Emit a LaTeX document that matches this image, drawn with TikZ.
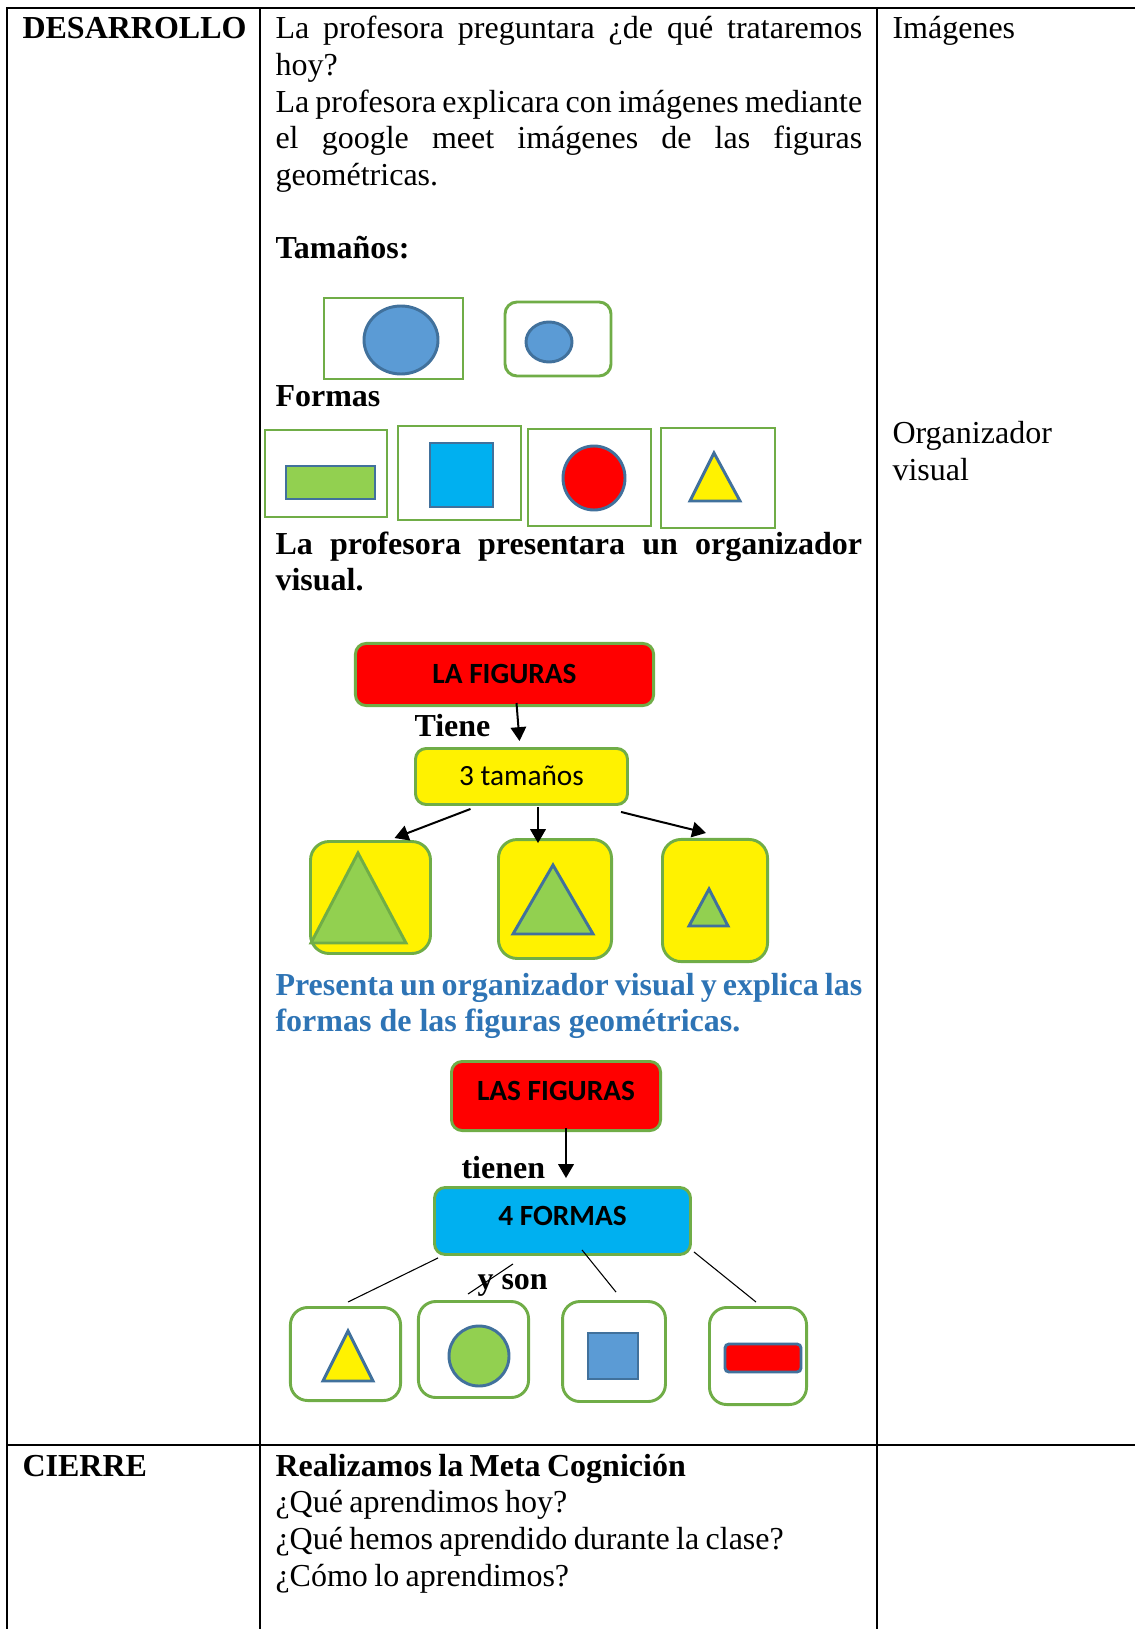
\documentclass[tikz,border=0pt]{standalone}
\usepackage{fontspec}
\setmainfont{Liberation Serif}
\newfontfamily\calibri{Carlito}
\usetikzlibrary{arrows.meta, positioning, calc}
\definecolor{boxgreen}{HTML}{70AD47}
\definecolor{shapeblue}{HTML}{5B9BD5}
\definecolor{edgeblue}{HTML}{41719C}
\definecolor{leafgreen}{HTML}{92D050}
\definecolor{skyblue}{HTML}{00B0F0}
\definecolor{titleblue}{HTML}{2E74B5}
\newcommand{\celltext}{\fontsize{12pt}{13.75pt}\selectfont}
\newcommand{\tightspace}{\spaceskip=2.4pt plus 1pt minus 0.5pt\relax}

\begin{document}
\begin{tikzpicture}[
    x=0.375pt, y=-0.375pt,
    cell/.style={anchor=base west, inner sep=0pt, font=\celltext},
    para/.style={cell, text width=220pt, align=justify},
    frame/.style={draw=boxgreen, line width=1.1pt, fill=white},
    piece/.style={draw=edgeblue, line width=1.1pt},
    mapbox/.style={draw=boxgreen, line width=1.1pt, rounded corners=4pt, inner sep=0pt, text height=7pt, text depth=0pt, font=\calibri\fontsize{11pt}{13pt}\selectfont},
    sizebox/.style={draw=boxgreen, fill=yellow, line width=1.1pt, rounded corners=7pt},
    formbox/.style={draw=boxgreen, fill=white, line width=1.1pt, rounded corners=6.5pt},
    arrow/.style={-{Triangle[length=5.2pt, width=5.8pt]}, line width=0.75pt},
    link/.style={line width=0.4pt},
    rule/.style={line width=0.8pt},
]
\useasboundingbox (0,0) rectangle (1135,1629);
% Table lines
\draw[rule] (7,1629) -- (7,8) -- (1135,8);
\draw[rule] (260,8) -- (260,1629);
\draw[rule] (877,8) -- (877,1629);
\draw[rule] (7,1445) -- (1135,1445);
% First row texts
\node[cell, font=\celltext\bfseries] (dev) at (22,39) {DESARROLLO};
\node[para] (intro) at (275,39) {La profesora preguntara ¿de qué trataremos\linebreak hoy?\\La profesora explicara con imágenes mediante\linebreak el google meet imágenes de las figuras\linebreak geométricas.};
\node[cell] (img) at (892,39) {Imágenes};
\node[cell, text width=200pt, align=left] (org) at (892,444) {Organizador\\visual};
% Sizes
\node[cell, font=\celltext\bfseries] (sizes) at (275,259) {Tamaños:};
\draw[frame] (324,298) rectangle (463,379);
\draw[piece, fill=shapeblue] (401,340) ellipse [x radius=37, y radius=34];
\draw[frame, rounded corners=4.5pt] (505,302) rectangle (611,376);
\draw[piece, fill=shapeblue] (549,342) ellipse [x radius=23, y radius=20];
% Shapes
\node[cell, font=\celltext\bfseries] (shapes) at (275,407) {Formas};
\draw[frame] (265,430) rectangle (387,517);
\draw[piece, fill=leafgreen] (286,466) rectangle (375,499);
\draw[frame] (398,426) rectangle (521,520);
\draw[piece, fill=skyblue] (430,443) rectangle (493,507);
\draw[frame] (528,429) rectangle (651,526);
\draw[piece, fill=red] (594,478) ellipse [x radius=31, y radius=32];
\draw[frame] (661,428) rectangle (775,528);
\draw[piece, fill=yellow] (714,453) -- (740,501) -- (690,501) -- cycle;
\node[para, font=\celltext\bfseries] (teach) at (275,554) {La profesora presentara un organizador\linebreak visual.};
% Map of sizes
\node[mapbox, fill=red, minimum width=111.8pt, minimum height=23.3pt] (fig) at (504.5,674.5) {\bfseries LA FIGURAS};
\node[mapbox, fill=yellow, minimum width=79.5pt, minimum height=21pt] (sizes3) at (521.5,776.5) {3 tamaños};
\node[sizebox, minimum width=45pt, minimum height=42pt] (big) at (370.5,897.5) {};
\node[sizebox, minimum width=42.4pt, minimum height=44.6pt] (mid) at (555,899) {};
\node[sizebox, minimum width=39.4pt, minimum height=45.8pt] (small) at (715,900.5) {};
\draw[draw=boxgreen, line width=1.1pt, fill=leafgreen] (358,853) -- (406,943) -- (311,943) -- cycle;
\draw[piece, fill=leafgreen] (553,865) -- (593,934) -- (513,934) -- cycle;
\draw[piece, fill=leafgreen] (709,889) -- (728,926) -- (689,926) -- cycle;
\node[cell, font=\celltext\bfseries] (has) at (414,736) {Tiene};
\draw[arrow] ($(fig.south)+(12,-4)$) -- ($(sizes3.north)+(-2,-6)$);
\draw[arrow] ($(sizes3.south)+(-51,3)$) -- ($(big.north)+(24,-2)$);
\draw[arrow] ($(sizes3.south)+(16.5,1)$) -- ($(mid.north)+(-17,5)$);
\draw[arrow] ($(sizes3.south)+(99.5,6)$) -- ($(small.north)+(-9,-5)$);
\node[para, font=\celltext\bfseries, text=titleblue] (present) at (275,995) {Presenta un organizador visual y explica las\linebreak formas de las figuras geométricas.};
% Map of shapes
\node[mapbox, fill=red, text depth=3.3pt, minimum width=78.4pt, minimum height=25.9pt] (figs) at (556,1096) {\bfseries LAS FIGURAS};
\node[mapbox, fill=skyblue, text depth=3.3pt, minimum width=96pt, minimum height=25.1pt] (forms) at (562.5,1221) {\bfseries 4 FORMAS};
\node[formbox, minimum width=41.3pt, minimum height=34.9pt] (tri) at (345.5,1354) {};
\node[formbox, minimum width=41.3pt, minimum height=36pt] (circ) at (473.5,1349.5) {};
\node[formbox, minimum width=38.6pt, minimum height=37.5pt] (sq) at (614,1351.5) {};
\node[formbox, minimum width=36.4pt, minimum height=36.4pt] (rect) at (758,1356) {};
\draw[piece, fill=yellow] (348,1331) -- (373,1381) -- (323,1381) -- cycle;
\draw[piece, fill=leafgreen] (479,1356) circle [radius=30];
\draw[piece, fill=shapeblue] (588,1333) rectangle (638,1379);
\draw[piece, fill=red, rounded corners=1.5pt] (725,1344) rectangle (801,1372);
\node[cell, font=\celltext\bfseries] (have) at (461,1178) {tienen};
\node[cell, font=\celltext\bfseries] (are) at (477,1289) {y son};
\draw[arrow] ($(figs.south)+(10,-4)$) -- ($(forms.north)+(3.5,-8)$);
\draw[link] ($(forms.south west)+(5,2)$) -- ($(tri.north)+(2.5,-4)$);
\draw[link] ($(forms.south)+(-49.5,8)$) -- ($(circ.north)+(-5.5,-6)$);
\draw[link] ($(forms.south)+(19.5,-6)$) -- ($(sq.north)+(2,-8)$);
\draw[link] ($(forms.south east)+(2,-4)$) -- ($(rect.north)+(-2,-4)$);
% Closing row
\node[cell, font=\celltext\bfseries] (close) at (22,1476) {CIERRE};
\node[cell, text width=230pt, align=left] (meta) at (275,1476) {\tightspace\textbf{Realizamos la Meta Cognición}\\¿Qué aprendimos hoy?\\¿Qué hemos aprendido durante la clase?\\¿Cómo lo aprendimos?};
\end{tikzpicture}
\end{document}
